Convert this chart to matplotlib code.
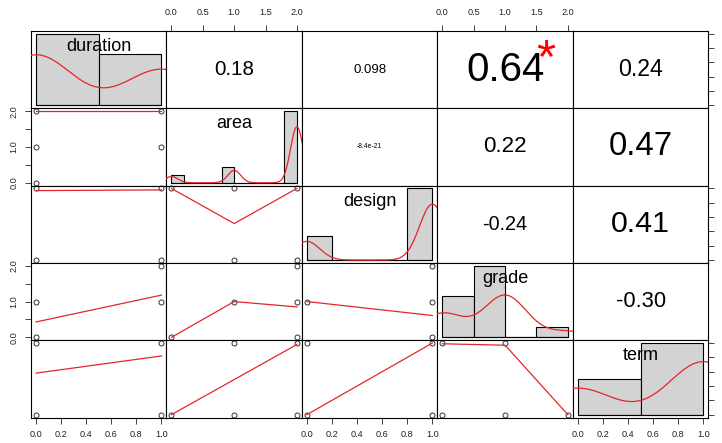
import numpy as np
import matplotlib
matplotlib.use("Agg")
import matplotlib.pyplot as plt
from matplotlib import transforms

plt.rcParams['font.family'] = ['Liberation Sans', 'DejaVu Sans']

# variables (12 records)
names = ["duration", "area", "design", "grade", "term"]
duration = [0, 0, 0, 0, 0, 0, 0, 1, 1, 1, 1, 1]
area = [0, 1, 1, 2, 2, 2, 2, 2, 2, 2, 2, 2]
design = [0, 0, 0, 1, 1, 1, 1, 1, 1, 1, 1, 1]
grade = [0, 0, 0, 0, 1, 1, 1, 1, 1, 1, 1, 2]
term = [0, 0, 0, 0, 1, 1, 1, 1, 1, 1, 1, 1]
data = [duration, area, design, grade, term]
var_range = [(0, 1), (0, 2), (0, 1), (0, 2), (0, 1)]

breaks = [
    [0, 0.5, 1.0],
    [0, 0.2, 0.4, 0.6, 0.8, 1.0, 1.2, 1.4, 1.6, 1.8, 2.0],
    [0, 0.2, 0.4, 0.6, 0.8, 1.0],
    [0, 0.5, 1.0, 1.5, 2.0],
    [0, 0.5, 1.0],
]

# upper panels: correlation text
cor_r = {(0, 1): 0.18, (0, 2): 0.098, (0, 3): 0.64, (0, 4): 0.24,
         (1, 2): -8.4e-21, (1, 3): 0.22, (1, 4): 0.47,
         (2, 3): -0.24, (2, 4): 0.41, (3, 4): -0.30}
cor_txt = {(0, 1): "0.18", (0, 2): "0.098", (0, 3): "0.64", (0, 4): "0.24",
           (1, 2): "-8.4e-21", (1, 3): "0.22", (1, 4): "0.47",
           (2, 3): "-0.24", (2, 4): "0.41", (3, 4): "-0.30"}
cor_star = {(0, 3): "*"}

# lower panels: distinct points and lowess curve
points = {
    (1, 0): [(0, 2), (1, 2), (0, 1), (1, 1), (0, 0)],
    (2, 0): [(0, 1), (1, 1), (0, 0), (1, 0)],
    (2, 1): [(0, 1), (1, 1), (2, 1), (1, 0), (2, 0)],
    (3, 0): [(1, 2), (0, 1), (1, 1), (0, 0)],
    (3, 1): [(2, 2), (1, 1), (2, 1), (0, 0), (2, 0)],
    (3, 2): [(1, 2), (0, 1), (1, 1), (1, 0)],
    (4, 0): [(0, 1), (1, 1), (0, 0), (1, 0)],
    (4, 1): [(1, 1), (2, 1), (0, 0), (1, 0), (2, 0)],
    (4, 2): [(0, 1), (1, 1), (0, 0), (1, 0)],
    (4, 3): [(0, 1), (1, 1), (0, 0), (1, 0), (2, 0)],
}
smooth = {
    (1, 0): [(0, 2.0), (1, 2.0)],
    (2, 0): [(0, 0.97), (1, 0.98)],
    (2, 1): [(0, 1.0), (1, 0.51), (2, 1.0)],
    (3, 0): [(0, 0.43), (1, 1.18)],
    (3, 1): [(0, 0.0), (1, 1.0), (2, 0.85)],
    (3, 2): [(0, 1.0), (1, 0.61)],
    (4, 0): [(0, 0.58), (1, 0.82)],
    (4, 1): [(0, 0.0), (1, 0.49), (2, 0.98)],
    (4, 2): [(0, 0.0), (1, 1.0)],
    (4, 3): [(0, 0.99), (1, 0.97), (2, 0.0)],
}


def pad(lo, hi):
    d = (hi - lo) * 0.04
    return lo - d, hi + d


def bw_nrd0(x):
    x = np.asarray(x, float)
    hi = x.std(ddof=1)
    q75, q25 = np.percentile(x, [75, 25])
    lo = min(hi, (q75 - q25) / 1.34)
    if lo == 0:
        lo = hi or abs(x[0]) or 1.0
    return 0.9 * lo * len(x) ** -0.2


def kde(x):
    x = np.asarray(x, float)
    bw = bw_nrd0(x)
    g = np.linspace(x.min() - 3 * bw, x.max() + 3 * bw, 512)
    z = (g[:, None] - x[None, :]) / bw
    d = np.exp(-0.5 * z ** 2).sum(axis=1) / (len(x) * bw * np.sqrt(2 * np.pi))
    return g, d


def hist_right(x, edges):
    # right-closed bins, lowest included (like R's hist)
    x = np.asarray(x, float)
    idx = np.searchsorted(edges, x, side='left') - 1
    idx[idx < 0] = 0
    return np.bincount(idx, minlength=len(edges) - 1)[:len(edges) - 1]


def tick_setup(lo, hi):
    step = 0.2 if hi - lo == 1 else 0.5
    return list(np.round(np.arange(lo, hi + 1e-9, step), 2))


W, H = 722, 443
x0, y0 = 31, 31
pw, ph = 135.46, 77.3
n = 5
red = '#e3262b'
tcol = '#222222'

fig = plt.figure(figsize=(W / 100, H / 100), dpi=100)
renderer = fig.canvas.get_renderer()

for i in range(n):
    for j in range(n):
        rect = [(x0 + j * pw) / W, 1 - (y0 + (i + 1) * ph) / H, pw / W, ph / H]
        ax = fig.add_axes(rect)
        ax.set_xlim(pad(*var_range[j]))
        ax.set_ylim(pad(*var_range[i]))
        ax.set_xticks([])
        ax.set_yticks([])
        for s in ax.spines.values():
            s.set_linewidth(0.8)
        ax.tick_params(length=4, width=0.6, labelsize=6.6, colors=tcol, pad=5)

        # axes on the outer edge, alternating like pairs()
        if i == 0 and j % 2 == 1:
            t = tick_setup(*var_range[j])
            ax.set_xticks(t)
            ax.set_xticklabels(["%.1f" % v for v in t])
            ax.tick_params(axis='x', top=True, labeltop=True, bottom=False,
                           labelbottom=False, pad=6)
        if i == n - 1 and j % 2 == 0:
            t = tick_setup(*var_range[j])
            ax.set_xticks(t)
            ax.set_xticklabels(["%.1f" % v for v in t])
        if j == 0 and i % 2 == 1:
            t = tick_setup(*var_range[i])
            ax.set_yticks(t)
            ax.set_yticklabels(["%.1f" % v if v in (0, 1, 2) else "" for v in t],
                               rotation=90, va='center')
        if j == n - 1 and i % 2 == 0:
            t = tick_setup(*var_range[i])
            ax.set_yticks(t)
            ax.set_yticklabels(["%.1f" % v for v in t], rotation=90, va='center')
            ax.tick_params(axis='y', right=True, labelright=True, left=False,
                           labelleft=False, pad=9)

        if i == j:
            hx = fig.add_axes(rect, frameon=False)
            hx.set_xticks([])
            hx.set_yticks([])
            edges = np.array(breaks[i], float)
            counts = hist_right(data[i], edges)
            dens = counts / (len(data[i]) * np.diff(edges))
            hx.set_xlim(pad(edges[0], edges[-1]))
            hx.set_ylim(pad(0, dens.max()))
            hx.bar(edges[:-1], dens, width=np.diff(edges), align='edge',
                   color='#d3d3d3', edgecolor='black', linewidth=0.8)
            hx.plot([edges[0], edges[-1]], [0, 0], color='black', lw=0.8)
            g, d = kde(data[i])
            hx.plot(g, d, color=red, lw=0.9)
            hx.text(0.5, 0.80, names[i], transform=hx.transAxes,
                    ha='center', va='center', fontsize=13)
        elif i < j:
            r = cor_r[(i, j)]
            txt = ax.text(0.5, 0.5, cor_txt[(i, j)], transform=ax.transAxes,
                          ha='center', va='center', fontsize=20)
            w = txt.get_window_extent(renderer).width
            target = 0.8 * (abs(r) + 0.3) / 1.3 * pw
            fs = 20 * target / w
            txt.set_fontsize(fs)
            if (i, j) in cor_star:
                sfs = 0.88 * fs * 1.3 / (abs(r) + 0.3)
                off = transforms.offset_copy(ax.transAxes, fig=fig, x=0,
                                             y=-0.27 * sfs, units='points')
                ax.text(0.8, 0.8, cor_star[(i, j)], transform=off, ha='center',
                        va='center', fontsize=sfs, color='red')
        else:
            px = [p[0] for p in points[(i, j)]]
            py = [p[1] for p in points[(i, j)]]
            ax.plot(px, py, 'o', mfc='none', mec='#333333', ms=3.6, mew=0.7,
                    clip_on=False)
            sx = [p[0] for p in smooth[(i, j)]]
            sy = [p[1] for p in smooth[(i, j)]]
            ax.plot(sx, sy, color=red, lw=0.9)

fig.savefig("out.png", dpi=100)
